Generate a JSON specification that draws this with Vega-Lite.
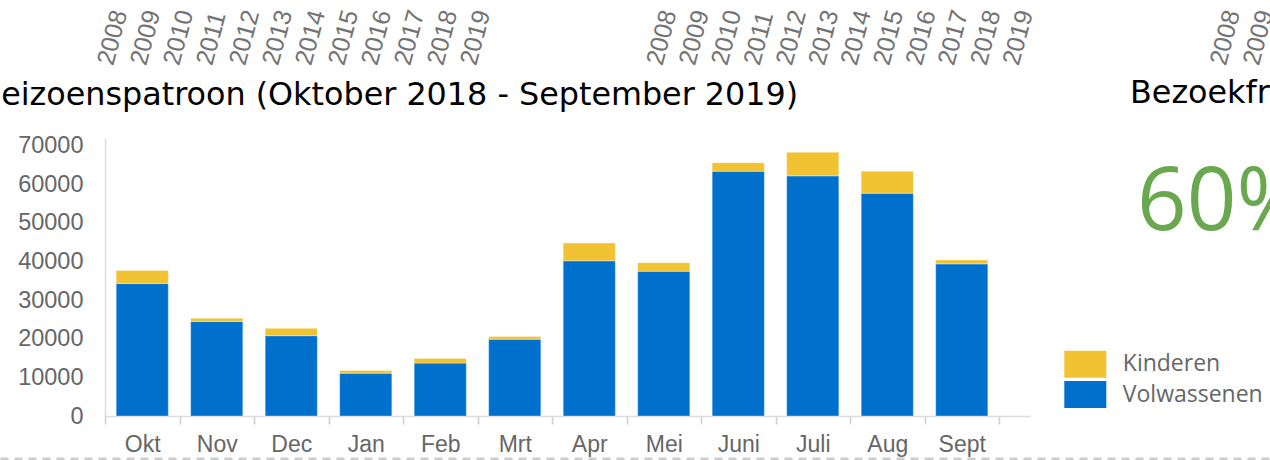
{
  "$schema": "https://vega.github.io/schema/vega-lite/v6.json",
  "background": "white",
  "autosize": {"type": "none"},
  "padding": {"left": 105, "top": 138, "right": 240, "bottom": 44},
  "width": 925,
  "height": 278,
  "config": {"view": {"stroke": null}, "font": "Liberation Sans"},
  "datasets": {
    "jaren": [{"jaar": 2008}, {"jaar": 2009}, {"jaar": 2010}, {"jaar": 2011}, {"jaar": 2012}, {"jaar": 2013}, {"jaar": 2014}, {"jaar": 2015}, {"jaar": 2016}, {"jaar": 2017}, {"jaar": 2018}, {"jaar": 2019}],
    "bezoek": [
      {"maand": "Okt", "groep": "Volwassenen", "bezoekers": 34300}, {"maand": "Okt", "groep": "Kinderen", "bezoekers": 3400},
      {"maand": "Nov", "groep": "Volwassenen", "bezoekers": 24500}, {"maand": "Nov", "groep": "Kinderen", "bezoekers": 800},
      {"maand": "Dec", "groep": "Volwassenen", "bezoekers": 20800}, {"maand": "Dec", "groep": "Kinderen", "bezoekers": 1900},
      {"maand": "Jan", "groep": "Volwassenen", "bezoekers": 11100}, {"maand": "Jan", "groep": "Kinderen", "bezoekers": 700},
      {"maand": "Feb", "groep": "Volwassenen", "bezoekers": 13700}, {"maand": "Feb", "groep": "Kinderen", "bezoekers": 1200},
      {"maand": "Mrt", "groep": "Volwassenen", "bezoekers": 19900}, {"maand": "Mrt", "groep": "Kinderen", "bezoekers": 700},
      {"maand": "Apr", "groep": "Volwassenen", "bezoekers": 40200}, {"maand": "Apr", "groep": "Kinderen", "bezoekers": 4600},
      {"maand": "Mei", "groep": "Volwassenen", "bezoekers": 37500}, {"maand": "Mei", "groep": "Kinderen", "bezoekers": 2200},
      {"maand": "Juni", "groep": "Volwassenen", "bezoekers": 63400}, {"maand": "Juni", "groep": "Kinderen", "bezoekers": 2200},
      {"maand": "Juli", "groep": "Volwassenen", "bezoekers": 62200}, {"maand": "Juli", "groep": "Kinderen", "bezoekers": 6100},
      {"maand": "Aug", "groep": "Volwassenen", "bezoekers": 57700}, {"maand": "Aug", "groep": "Kinderen", "bezoekers": 5700},
      {"maand": "Sept", "groep": "Volwassenen", "bezoekers": 39400}, {"maand": "Sept", "groep": "Kinderen", "bezoekers": 1000}
    ],
    "kpi": [{"titel": "Seizoenspatroon (Oktober 2018 - September 2019)", "titel2": "Bezoekfrequentie", "waarde": "60%"}],
    "lijn": [{"x": 0}]
  },
  "resolve": {"scale": {"x": "independent", "y": "independent"}, "axis": {"x": "independent", "y": "independent"}},
  "layer": [
    {
      "data": {"name": "bezoek"},
      "mark": {"type": "bar", "width": {"band": 0.7}, "stroke": "#ffffff", "strokeWidth": 1, "strokeOpacity": 0.35},
      "encoding": {
        "x": {"field": "maand", "type": "ordinal",
          "sort": ["Okt", "Nov", "Dec", "Jan", "Feb", "Mrt", "Apr", "Mei", "Juni", "Juli", "Aug", "Sept"],
          "scale": {"type": "band", "paddingInner": 0, "paddingOuter": 0.208, "align": 0, "round": false},
          "axis": {"orient": "bottom", "title": null, "labelAngle": 0, "tickBand": "extent", "tickSize": 8, "tickColor": "#cccccc", "tickWidth": 1.5, "domainColor": "#dcdcdc", "domainWidth": 1.5, "labelFontSize": 23, "labelColor": "#666666", "labelPadding": 9, "labelFont": "Liberation Sans"}},
        "y": {"field": "bezoekers", "type": "quantitative", "stack": "zero",
          "scale": {"domain": [0, 72000], "nice": false},
          "axis": {"orient": "left", "title": null, "values": [0, 10000, 20000, 30000, 40000, 50000, 60000, 70000], "format": "d", "grid": false, "ticks": false, "labelOverlap": false, "labelBound": false, "labelFlush": false, "domainColor": "#dcdcdc", "domainWidth": 1.5, "labelFontSize": 23.5, "labelColor": "#666666", "labelPadding": 22, "labelFont": "Liberation Sans"}},
        "color": {"field": "groep", "type": "nominal",
          "scale": {"domain": ["Kinderen", "Volwassenen"], "range": ["#f1c232", "#0070cd"]},
          "legend": {"orient": "none", "legendX": 966.8, "legendY": 212.7, "direction": "vertical", "title": null, "padding": 0, "symbolType": "M-1.556,-1H1.556V1H-1.556Z", "symbolSize": 729, "symbolStrokeWidth": 0, "symbolOpacity": 1, "labelFont": "Open Sans", "labelFontSize": 23, "labelColor": "#666666", "labelOffset": 24, "rowPadding": 3.3}},
        "order": {"field": "groep", "sort": "descending"}
      }
    },
    {
      "data": {"name": "jaren"},
      "mark": {"type": "point", "opacity": 0},
      "encoding": {
        "x": {"field": "jaar", "type": "quantitative",
          "scale": {"domain": [2007.5, 2035.53], "zero": false, "nice": false},
          "axis": {"orient": "top", "offset": 70, "position": -16.8, "title": null, "values": [2008, 2009, 2010, 2011, 2012, 2013, 2014, 2015, 2016, 2017, 2018, 2019], "format": "d", "labelAngle": -75, "labelAlign": "left", "labelBaseline": "middle", "ticks": false, "tickSize": 0, "domain": false, "grid": false, "labelPadding": 4, "labelFontSize": 25, "labelColor": "#737373", "labelOverlap": false, "labelBound": false, "labelFlush": false}},
        "y": {"datum": 0, "type": "quantitative", "scale": {"domain": [0, 1]}, "axis": null}
      }
    },
    {
      "data": {"name": "jaren"},
      "mark": {"type": "point", "opacity": 0},
      "encoding": {
        "x": {"field": "jaar", "type": "quantitative",
          "scale": {"domain": [2007.5, 2036.05], "zero": false, "nice": false},
          "axis": {"orient": "top", "offset": 70, "position": 532.8, "title": null, "values": [2008, 2009, 2010, 2011, 2012, 2013, 2014, 2015, 2016, 2017, 2018, 2019], "format": "d", "labelAngle": -75, "labelAlign": "left", "labelBaseline": "middle", "ticks": false, "tickSize": 0, "domain": false, "grid": false, "labelPadding": 4, "labelFontSize": 25, "labelColor": "#737373", "labelOverlap": false, "labelBound": false, "labelFlush": false}},
        "y": {"datum": 0, "type": "quantitative", "scale": {"domain": [0, 1]}, "axis": null}
      }
    },
    {
      "data": {"name": "jaren"},
      "mark": {"type": "point", "opacity": 0},
      "encoding": {
        "x": {"field": "jaar", "type": "quantitative",
          "scale": {"domain": [2007.5, 2035.53], "zero": false, "nice": false},
          "axis": {"orient": "top", "offset": 70, "position": 1095.9, "title": null, "values": [2008, 2009, 2010, 2011, 2012, 2013, 2014, 2015, 2016, 2017, 2018, 2019], "format": "d", "labelAngle": -75, "labelAlign": "left", "labelBaseline": "middle", "ticks": false, "tickSize": 0, "domain": false, "grid": false, "labelPadding": 4, "labelFontSize": 25, "labelColor": "#737373", "labelOverlap": false, "labelBound": false, "labelFlush": false}},
        "y": {"datum": 0, "type": "quantitative", "scale": {"domain": [0, 1]}, "axis": null}
      }
    },
    {
      "data": {"name": "lijn"},
      "mark": {"type": "point", "opacity": 0},
      "encoding": {
        "x": {"field": "x", "type": "quantitative", "scale": {"domain": [0, 1]},
          "axis": {"orient": "bottom", "offset": 42.5, "position": -105, "title": null, "labels": false, "ticks": false, "grid": false, "domainDash": [8, 6], "domainColor": "#cccccc", "domainWidth": 3}},
        "y": {"datum": 0, "type": "quantitative", "scale": {"domain": [0, 1]}, "axis": null}
      }
    },
    {
      "data": {"name": "lijn"},
      "mark": {"type": "point", "opacity": 0},
      "encoding": {
        "x": {"field": "x", "type": "quantitative", "scale": {"domain": [0, 1]},
          "axis": {"orient": "bottom", "offset": 42.5, "position": 820, "title": null, "labels": false, "ticks": false, "grid": false, "domainDash": [8, 6], "domainColor": "#cccccc", "domainWidth": 3}},
        "y": {"datum": 0, "type": "quantitative", "scale": {"domain": [0, 1]}, "axis": null}
      }
    },
    {
      "data": {"name": "kpi"},
      "mark": {"type": "text", "align": "left", "baseline": "alphabetic", "font": "DejaVu Sans", "fontSize": 31.8, "color": "#000000", "dx": -124, "dy": -311},
      "encoding": {
        "text": {"field": "titel"},
        "x": {"datum": 0, "type": "quantitative", "scale": {"domain": [0, 1]}, "axis": null},
        "y": {"datum": 0, "type": "quantitative", "scale": {"domain": [0, 1]}, "axis": null}
      }
    },
    {
      "data": {"name": "kpi"},
      "mark": {"type": "text", "align": "left", "baseline": "alphabetic", "font": "DejaVu Sans", "fontSize": 31.8, "color": "#000000", "dx": 1025, "dy": -312.7},
      "encoding": {
        "text": {"field": "titel2"},
        "x": {"datum": 0, "type": "quantitative", "scale": {"domain": [0, 1]}, "axis": null},
        "y": {"datum": 0, "type": "quantitative", "scale": {"domain": [0, 1]}, "axis": null}
      }
    },
    {
      "data": {"name": "kpi"},
      "mark": {"type": "text", "align": "left", "baseline": "alphabetic", "font": "Open Sans", "fontSize": 87, "color": "#6aa84f", "dx": 1032, "dy": -186},
      "encoding": {
        "text": {"field": "waarde"},
        "x": {"datum": 0, "type": "quantitative", "scale": {"domain": [0, 1]}, "axis": null},
        "y": {"datum": 0, "type": "quantitative", "scale": {"domain": [0, 1]}, "axis": null}
      }
    }
  ]
}
